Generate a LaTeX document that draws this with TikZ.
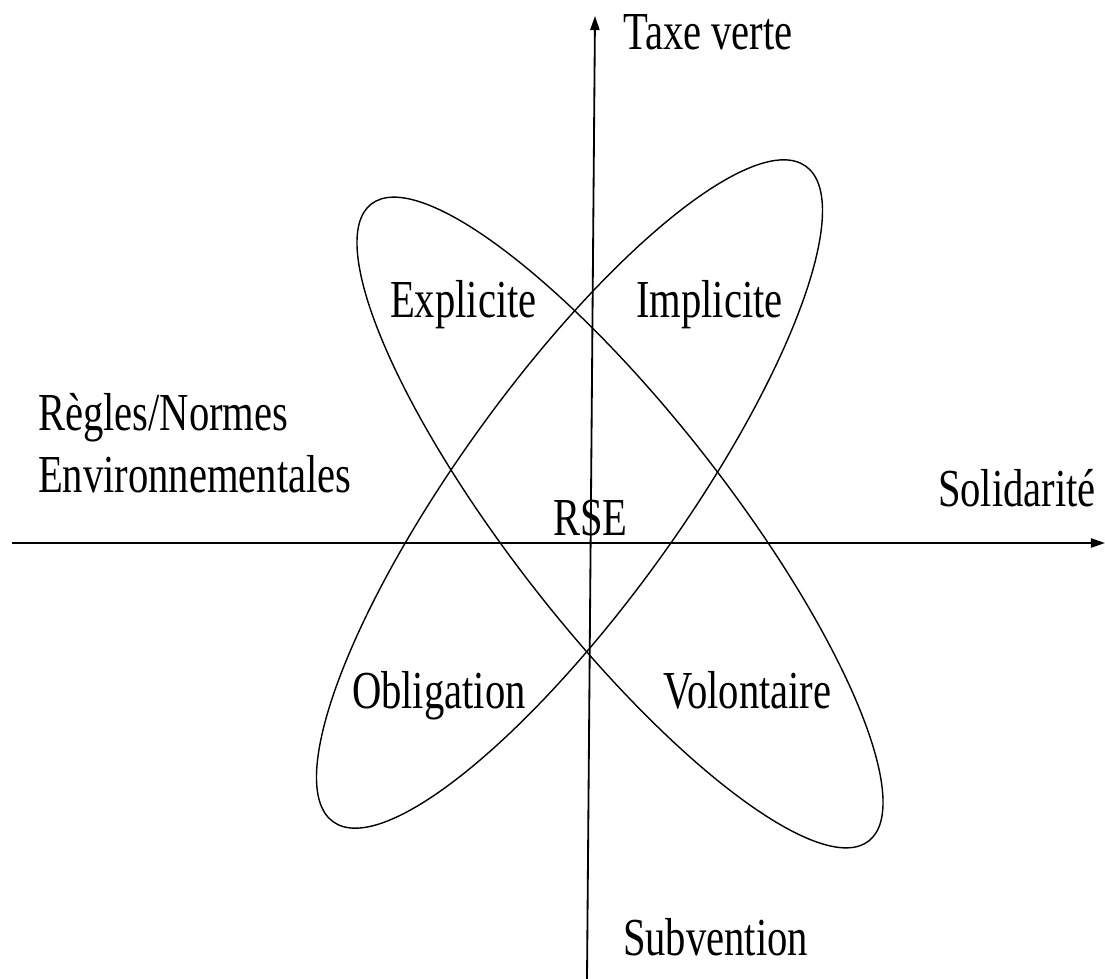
\documentclass[tikz,border=0pt]{standalone}
\usepackage{fontspec}
\setmainfont{Liberation Serif}
\newfontfamily\labelfont[FakeStretch=0.76]{Liberation Serif}
\usetikzlibrary{arrows.meta}
\tikzset{
  lbl/.style={inner sep=0pt, outer sep=0pt, anchor=base west, font=\labelfont\fontsize{38}{44}\selectfont},
  axisline/.style={line width=1.3pt, -{Triangle[length=10pt,width=6.5pt]}},
  petal/.style={line width=1pt},
}
\begin{document}
\begin{tikzpicture}[x=0.025cm, y=-0.025cm]
\useasboundingbox (0,0) rectangle (1105,979);
% axes
\coordinate (hl) at (12,543);
\coordinate (hr) at (1105,543);
\coordinate (vb) at (587,979);
\coordinate (vt) at (595,16);
\draw[axisline] (hl) -- (hr);
\draw[axisline] (vb) -- (vt);
% ellipses
\coordinate (ea) at (620,522.5);
\coordinate (eb) at (569.5,494);
\draw[petal, rotate around={-52:(ea)}] (ea) ellipse [x radius=10.1cm, y radius=2.7cm];
\draw[petal, rotate around={54.2:(eb)}] (eb) ellipse [x radius=10.1cm, y radius=2.775cm];
% labels
\node[lbl] (taxe) at (623,50) {Taxe verte};
\node[lbl] (subv) at (623,955) {Subvention};
\node[lbl] (regl) at (38,430) {Règles/Normes};
\node[lbl] (envi) at (38,492) {Environnementales};
\node[lbl] (soli) at (938,506) {Solidarité};
\node[lbl] (rse) at (553,535) {RSE};
\node[lbl] (expl) at (390,317) {Explicite};
\node[lbl] (impl) at (636,317) {Implicite};
\node[lbl] (obli) at (352,708) {Obligation};
\node[lbl] (volo) at (663,708) {Volontaire};
\end{tikzpicture}
\end{document}
